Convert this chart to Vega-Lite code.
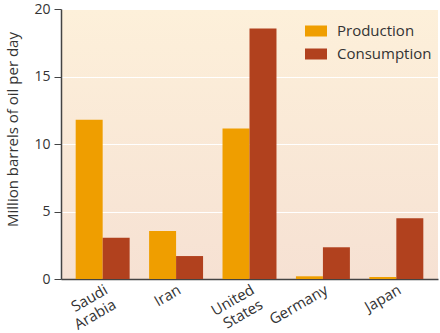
{
  "$schema": "https://vega.github.io/schema/vega-lite/v6.json",
  "autosize": "none",
  "width": 377,
  "height": 270,
  "padding": {"left": 61, "top": 9, "right": 2, "bottom": 54},
  "background": "white",
  "config": {
    "font": "Open Sans",
    "view": {
      "stroke": null,
      "fill": {
        "gradient": "linear",
        "x1": 0, "y1": 0, "x2": 0, "y2": 1,
        "stops": [
          {"offset": 0, "color": "#fdf0da"},
          {"offset": 1, "color": "#f6e1d3"}
        ]
      }
    },
    "axis": {
      "labelFont": "Open Sans",
      "titleFont": "Open Sans",
      "labelColor": "#333333",
      "titleColor": "#333333",
      "domainColor": "#444444",
      "tickColor": "#444444",
      "labelFontSize": 14,
      "titleFontSize": 15,
      "titleFontWeight": "normal"
    }
  },
  "data": {
    "values": [
      {"country": "Saudi Arabia", "type": "Production", "value": 11.8},
      {"country": "Saudi Arabia", "type": "Consumption", "value": 3.05},
      {"country": "Iran", "type": "Production", "value": 3.55},
      {"country": "Iran", "type": "Consumption", "value": 1.7},
      {"country": "United States", "type": "Production", "value": 11.15},
      {"country": "United States", "type": "Consumption", "value": 18.55},
      {"country": "Germany", "type": "Production", "value": 0.2},
      {"country": "Germany", "type": "Consumption", "value": 2.35},
      {"country": "Japan", "type": "Production", "value": 0.15},
      {"country": "Japan", "type": "Consumption", "value": 4.5}
    ]
  },
  "mark": {"type": "bar"},
  "encoding": {
    "x": {
      "field": "country",
      "type": "nominal",
      "sort": ["Saudi Arabia", "Iran", "United States", "Germany", "Japan"],
      "scale": {"paddingInner": 0.265, "paddingOuter": 0.2},
      "axis": {
        "title": null,
        "labelAngle": -30,
        "labelAlign": "right",
        "labelBaseline": "top",
        "labelExpr": "split(datum.label, ' ')",
        "labelFontSize": 15,
        "labelLineHeight": 17,
        "ticks": false,
        "labelPadding": 3,
        "domainWidth": 1.5
      }
    },
    "xOffset": {
      "field": "type",
      "type": "nominal",
      "sort": ["Production", "Consumption"],
      "scale": {"paddingInner": 0, "paddingOuter": 0}
    },
    "y": {
      "field": "value",
      "type": "quantitative",
      "scale": {"domain": [0, 20]},
      "axis": {
        "title": "Million barrels of oil per day",
        "titleY": 120,
        "values": [0, 5, 10, 15, 20],
        "gridColor": "white",
        "gridWidth": 1,
        "tickSize": 7,
        "labelPadding": 4,
        "titlePadding": 13,
        "domainWidth": 1.5
      }
    },
    "color": {
      "field": "type",
      "type": "nominal",
      "sort": ["Production", "Consumption"],
      "scale": {"domain": ["Production", "Consumption"], "range": ["#ef9e00", "#b1411e"]},
      "legend": {
        "title": null,
        "orient": "none",
        "legendX": 244,
        "legendY": 11,
        "symbolType": "M-1,-0.5H1V0.5H-1Z",
        "symbolSize": 484,
        "symbolStrokeWidth": 0,
        "labelFontSize": 15,
        "labelColor": "#333333",
        "labelFont": "Open Sans",
        "rowPadding": 4,
        "labelOffset": 10
      }
    }
  }
}
